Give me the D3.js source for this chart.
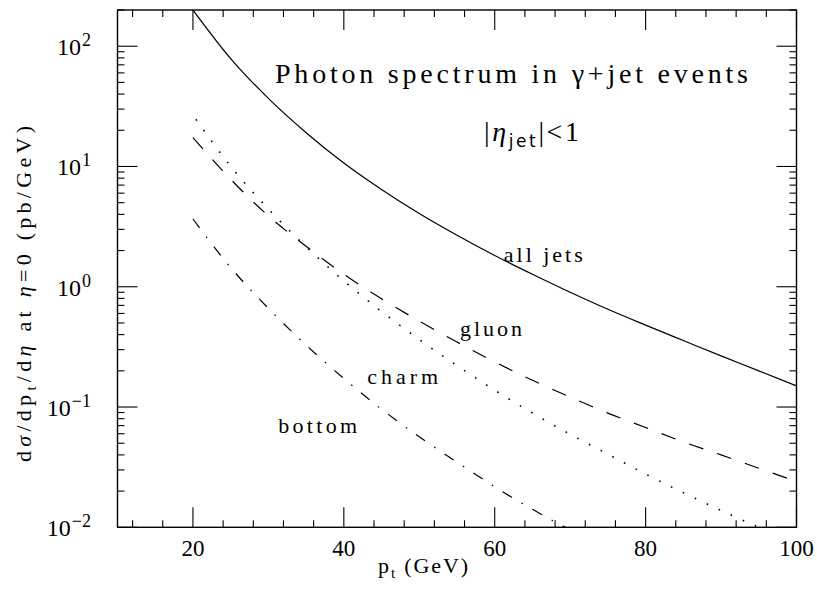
<!DOCTYPE html>
<html>
<head>
<meta charset="utf-8">
<script src="https://cdn.jsdelivr.net/npm/d3@7"></script>
<style>
  html, body { margin: 0; padding: 0; background: #fff; }
  svg { display: block; }
  text { font-family: "Liberation Serif", "DejaVu Serif", serif; fill: #000; }
</style>
</head>
<body>
<svg id="chart" width="817" height="592"></svg>
<script>
// ---- data ----
const pt = [20, 25, 30, 35, 40, 45, 50, 55, 60, 65, 70, 75, 80, 85, 90, 95, 100];
const allJets = [200, 78.9, 36.8, 19.1, 10.7, 6.44, 4.06, 2.68, 1.82, 1.27, 0.90, 0.65, 0.48, 0.357, 0.266, 0.20, 0.15];
const gluon   = [17.4, 7.83, 3.88, 2.17, 1.27, 0.794, 0.518, 0.347, 0.237, 0.167, 0.121, 0.089, 0.0676, 0.0513, 0.040, 0.031, 0.024];
const charm   = [26.7, 10.05, 4.43, 2.15, 1.12, 0.622, 0.364, 0.221, 0.138, 0.0891, 0.0593, 0.0405, 0.0277, 0.0194, 0.0138, 0.0100, 0.0074];
const bottomQ = [3.66, 1.445, 0.661, 0.327, 0.1726, 0.0960, 0.0565, 0.0348, 0.0217, 0.0141, 0.0095, 0.0064];
const bottomPt = [20, 25, 30, 35, 40, 45, 50, 55, 60, 65, 70, 75];

const xMajorTicks = [20, 40, 60, 80, 100];
const xTickLabels = ["20", "40", "60", "80", "100"];
const xMinorTicks = [12, 16, 24, 28, 32, 36, 44, 48, 52, 56, 64, 68, 72, 76, 84, 88, 92, 96];
const yMajorTicks = [0.01, 0.1, 1, 10, 100];
const yTickExponents = ["−2", "−1", "0", "1", "2"];

const curveLabels = [
  { text: "all jets", pt: 61.2, v: 1.6,  width: 79 },
  { text: "gluon",    pt: 55.4, v: 0.39, width: 62 },
  { text: "charm",    pt: 43.1, v: 0.155, width: 71 },
  { text: "bottom",   pt: 31.3, v: 0.061, width: 79 }
];

// ---- layout ----
const svg = d3.select("#chart");
const pLeft = 117.5, pRight = 796.5, pTop = 10, pBottom = 527.3;
const x = d3.scaleLinear().domain([10, 100]).range([pLeft, pRight]);
const y = d3.scaleLog().domain([0.01, 200]).range([pBottom, pTop]);

const yMinorTicks = [];
[0.01, 0.1, 1, 10, 100].forEach(d => {
  for (let k = 2; k <= 9; k++) { const v = d * k; if (v <= 200) yMinorTicks.push(v); }
});

svg.append("defs").append("clipPath").attr("id", "clip")
  .append("rect").attr("x", pLeft).attr("y", pTop).attr("width", pRight - pLeft).attr("height", pBottom - pTop);

const axisColor = "#000";
const g = svg.append("g");

// ticks (inward, all four sides)
const tickG = g.append("g").attr("stroke", axisColor).attr("stroke-width", 1.1);
xMajorTicks.forEach(t => {
  tickG.append("line").attr("x1", x(t)).attr("x2", x(t)).attr("y1", pBottom).attr("y2", pBottom - 20);
  tickG.append("line").attr("x1", x(t)).attr("x2", x(t)).attr("y1", pTop).attr("y2", pTop + 20);
});
xMinorTicks.forEach(t => {
  tickG.append("line").attr("x1", x(t)).attr("x2", x(t)).attr("y1", pBottom).attr("y2", pBottom - 7);
  tickG.append("line").attr("x1", x(t)).attr("x2", x(t)).attr("y1", pTop).attr("y2", pTop + 7);
});
yMajorTicks.forEach(t => {
  tickG.append("line").attr("x1", pLeft).attr("x2", pLeft + 20).attr("y1", y(t)).attr("y2", y(t));
  tickG.append("line").attr("x1", pRight).attr("x2", pRight - 20).attr("y1", y(t)).attr("y2", y(t));
});
yMinorTicks.forEach(t => {
  tickG.append("line").attr("x1", pLeft).attr("x2", pLeft + 7).attr("y1", y(t)).attr("y2", y(t));
  tickG.append("line").attr("x1", pRight).attr("x2", pRight - 7).attr("y1", y(t)).attr("y2", y(t));
});

// frame
g.append("rect").attr("x", pLeft).attr("y", pTop).attr("width", pRight - pLeft).attr("height", pBottom - pTop)
  .attr("fill", "none").attr("stroke", axisColor).attr("stroke-width", 1.4);

// x tick labels
xMajorTicks.forEach((t, i) => {
  g.append("text").attr("x", x(t)).attr("y", pBottom + 29).attr("text-anchor", "middle")
    .attr("font-size", 23).text(xTickLabels[i]);
});

// y tick labels
yMajorTicks.forEach((t, i) => {
  const txt = g.append("text").attr("x", 91).attr("y", y(t) + 9).attr("text-anchor", "end").attr("font-size", 24);
  txt.append("tspan").text("10");
  txt.append("tspan").attr("dy", -9).attr("dx", 1).attr("font-size", 18).text(yTickExponents[i]);
});

// curves
const line = d3.line().x(d => x(d[0])).y(d => y(d[1])).curve(d3.curveMonotoneX);
const curves = g.append("g").attr("clip-path", "url(#clip)").attr("fill", "none").attr("stroke", "#000");
curves.append("path").attr("d", line(pt.map((p, i) => [p, allJets[i]]))).attr("stroke-width", 1.2);
curves.append("path").attr("d", line(pt.map((p, i) => [p, gluon[i]]))).attr("stroke-width", 1.2)
  .attr("stroke-dasharray", "15,14.5");
curves.append("path").attr("d", line(pt.map((p, i) => [p, charm[i]]))).attr("stroke-width", 1.6)
  .attr("stroke-dasharray", "1.6,11.6").attr("stroke-dashoffset", -5);
curves.append("path").attr("d", line(bottomPt.map((p, i) => [p, bottomQ[i]]))).attr("stroke-width", 1.2)
  .attr("stroke-dasharray", "11,11,1.6,11");

// curve labels
curveLabels.forEach(l => {
  g.append("text").attr("x", x(l.pt)).attr("y", y(l.v)).attr("font-size", 22)
    .attr("textLength", l.width).attr("lengthAdjust", "spacing").text(l.text);
});

// title
g.append("text").attr("x", 275).attr("y", 83).attr("font-size", 28)
  .attr("textLength", 473).attr("lengthAdjust", "spacing")
  .text("Photon spectrum in γ+jet events");

// |eta_jet| < 1
const eta = g.append("text").attr("x", 484).attr("y", 141).attr("font-size", 28)
  .attr("textLength", 95).attr("lengthAdjust", "spacing");
eta.append("tspan").text("|");
eta.append("tspan").attr("font-style", "italic").text("η");
eta.append("tspan").attr("dy", 6).attr("font-size", 17).attr("font-family", "DejaVu Sans").text("jet");
eta.append("tspan").attr("dy", -6).text("|<1");

// x axis title
const xt = g.append("text").attr("x", 378).attr("y", 573).attr("font-size", 22)
  .attr("textLength", 90).attr("lengthAdjust", "spacing");
xt.append("tspan").text("p");
xt.append("tspan").attr("dy", 5).attr("font-size", 15).text("t");
xt.append("tspan").attr("dy", -5).text(" (GeV)");

// y axis title
const yt = g.append("text").attr("transform", "translate(31,294) rotate(-90)")
  .attr("text-anchor", "middle").attr("font-size", 22)
  .attr("textLength", 336).attr("lengthAdjust", "spacing");
yt.append("tspan").text("d");
yt.append("tspan").attr("font-style", "italic").text("σ");
yt.append("tspan").text("/dp");
yt.append("tspan").attr("dy", 5).attr("font-size", 15).text("t");
yt.append("tspan").attr("dy", -5).text("/d");
yt.append("tspan").attr("font-style", "italic").text("η");
yt.append("tspan").text(" at ");
yt.append("tspan").attr("font-style", "italic").text("η");
yt.append("tspan").text("=0 (pb/GeV)");
</script>
</body>
</html>
